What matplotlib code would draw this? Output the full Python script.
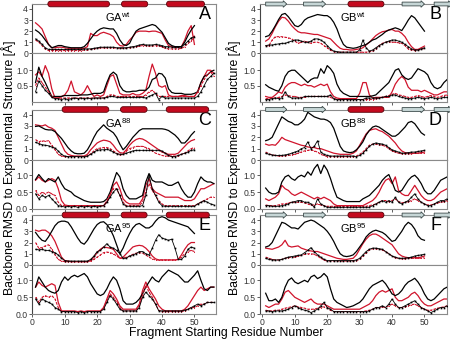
import numpy as np
import matplotlib
matplotlib.use("Agg")
import matplotlib.pyplot as plt
from matplotlib.patches import Polygon

plt.rcParams['font.family'] = ['Liberation Sans', 'DejaVu Sans']
plt.rcParams['mathtext.fontset'] = 'custom'
plt.rcParams['mathtext.rm'] = 'Liberation Sans'
plt.rcParams['mathtext.it'] = 'Liberation Sans:italic'

# ---------------- data (RMSD in Angstrom, per fragment starting residue) -------------
# upper panels: residues 1..50 ; lower panels: residues 1..56 (GA) / 1..57 (GB)
# series: blk = black solid, red = red solid, blkd = black with markers, redd = red dashed with markers

A_up_blk = [2.1,1.9,1.6,1.2,0.8,0.5,0.6,0.7,0.7,0.6,0.55,0.5,0.5,0.5,0.5,0.6,0.9,1.3,1.7,2.0,2.2,2.3,2.25,2.2,2.2,1.8,1.2,0.8,0.7,0.9,1.5,2.0,2.2,2.3,2.4,2.5,2.6,2.5,2.2,1.9,1.4,0.9,0.7,0.6,0.6,0.6,1.0,1.6,2.1,2.5]
A_up_red = [2.75,2.5,2.2,1.5,0.8,0.5,0.5,0.55,0.55,0.5,0.45,0.45,0.45,0.45,0.45,0.45,0.6,1.8,1.6,1.6,1.8,1.9,1.8,1.7,1.5,1.0,0.7,0.65,0.8,1.2,1.5,1.9,2.0,2.0,2.0,1.95,2.0,2.0,1.9,1.8,1.2,0.7,0.6,0.55,0.55,0.6,1.2,2.0,2.5,0.8]
A_up_blkd = [1.3,1.1,0.8,0.5,0.35,0.35,0.35,0.35,0.35,0.35,0.35,0.35,0.35,0.35,0.35,0.4,0.4,0.4,0.45,0.5,0.55,0.55,0.55,0.55,0.55,0.5,0.5,0.5,0.5,0.55,0.6,0.65,0.75,0.8,0.75,0.75,0.75,0.8,0.75,0.7,0.6,0.6,0.55,0.55,0.55,0.6,0.8,1.1,1.4,1.5]
A_up_redd = [1.2,1.0,0.7,0.4,0.25,0.25,0.25,0.25,0.25,0.25,0.25,0.25,0.25,0.25,0.25,0.3,0.3,0.35,0.4,0.45,0.5,0.5,0.5,0.5,0.5,0.45,0.45,0.45,0.45,0.5,0.55,0.6,0.65,0.7,0.7,0.65,0.65,0.7,0.65,0.6,0.45,0.4,0.4,0.4,0.4,0.45,0.6,0.9,1.1,1.6]
A_lo_blk = [0.6,1.1,0.8,0.6,0.37,0.15,0.15,0.15,0.15,0.18,0.18,0.18,0.18,0.18,0.2,0.2,0.2,0.22,0.25,0.25,0.25,0.3,0.6,0.85,0.94,0.85,0.5,0.35,0.3,0.3,0.32,0.32,0.35,0.35,0.35,0.45,0.7,0.75,0.9,0.88,0.75,0.4,0.28,0.25,0.25,0.25,0.22,0.22,0.22,0.25,0.3,0.6,0.8,0.85,0.95,1.0]
A_lo_red = [0.85,0.95,0.8,1.15,0.9,0.4,0.1,0.1,0.15,0.2,0.35,0.65,0.3,0.25,0.2,0.3,0.5,0.3,0.15,0.2,0.15,0.2,0.5,0.8,0.85,0.55,0.25,0.2,0.2,0.2,0.25,0.2,0.2,0.25,0.35,0.8,1.2,0.9,0.5,0.45,0.5,0.2,0.15,0.15,0.15,0.18,0.18,0.15,0.15,0.15,0.3,0.6,0.8,1.0,1.0,0.9]
A_lo_blkd = [0.3,0.65,0.5,0.35,0.25,0.12,0.08,0.08,0.05,0.08,0.05,0.08,0.1,0.08,0.1,0.08,0.1,0.08,0.1,0.1,0.1,0.1,0.12,0.15,0.15,0.12,0.12,0.12,0.12,0.12,0.12,0.12,0.12,0.12,0.1,0.15,0.2,0.25,0.05,0.15,0.1,0.1,0.1,0.1,0.1,0.1,0.1,0.1,0.1,0.1,0.15,0.3,0.5,0.7,0.8,0.9]
A_lo_redd = [0.5,0.75,0.6,0.45,0.3,0.15,0.1,0.1,0.1,0.1,0.1,0.1,0.1,0.1,0.1,0.1,0.1,0.1,0.1,0.1,0.1,0.1,0.15,0.2,0.2,0.15,0.15,0.15,0.15,0.15,0.15,0.15,0.15,0.15,0.2,0.3,0.35,0.25,0.15,0.15,0.15,0.15,0.15,0.15,0.15,0.15,0.15,0.15,0.15,0.15,0.3,0.5,0.7,0.85,0.95,0.8]

B_up_blk = [1.5,1.6,2.0,2.5,3.05,3.5,3.6,3.3,2.9,2.5,2.4,2.6,3.0,3.2,3.3,3.4,3.5,3.45,3.4,3.4,3.2,2.8,2.2,1.4,0.8,0.55,0.5,0.45,0.5,0.6,0.7,0.8,1.0,1.2,1.3,1.5,1.7,1.95,2.1,2.2,2.3,2.2,2.05,2.5,3.0,3.4,3.2,2.8,2.4,2.0]
B_up_red = [1.1,1.3,1.8,2.4,2.9,3.25,3.2,2.9,2.5,2.2,1.95,1.85,1.85,1.8,1.75,1.7,1.7,1.6,1.5,1.4,1.3,1.0,0.7,0.45,0.35,0.35,0.3,0.3,0.35,0.4,0.5,0.75,1.0,1.3,1.6,1.8,1.95,2.0,2.1,2.15,2.0,2.0,1.8,1.5,1.0,0.6,0.35,0.35,0.5,0.65]
B_up_blkd = [0.7,0.75,0.75,0.8,0.85,0.9,0.9,1.0,1.1,1.2,1.2,1.1,1.0,1.0,1.1,1.3,1.3,1.2,1.0,0.7,0.4,0.2,0.15,0.1,0.1,0.1,0.1,0.1,0.1,0.3,1.2,0.5,0.2,0.3,0.5,0.7,0.85,1.0,1.1,1.2,1.2,1.1,1.0,0.8,0.6,0.4,0.3,0.3,0.4,0.5]
B_up_redd = [0.65,0.7,1.2,1.5,1.5,1.5,1.45,1.4,1.3,1.1,0.9,1.0,1.1,1.0,0.9,1.0,1.0,0.9,0.7,0.5,0.3,0.15,0.1,0.1,0.1,0.1,0.1,0.1,0.1,0.1,0.1,0.1,0.15,0.2,0.4,0.7,0.9,1.0,1.05,1.0,1.0,0.95,0.9,0.7,0.4,0.3,0.25,0.3,0.35,0.45]
B_lo_blk = [0.53,0.45,0.4,0.35,0.32,0.5,0.8,0.95,1.0,1.0,0.9,0.8,0.7,0.6,0.7,0.75,0.75,1.05,0.9,1.15,1.05,0.9,0.55,0.35,0.25,0.2,0.15,0.15,0.15,0.15,0.15,0.15,0.15,0.17,0.2,0.3,0.4,0.5,0.6,0.8,1.0,1.05,0.85,0.75,0.7,0.75,0.9,1.05,1.0,0.95,0.85,0.6,0.45,0.4,0.45,0.6,0.7]
B_lo_red = [0.15,0.12,0.12,0.2,0.3,0.25,0.45,0.55,0.6,0.6,0.55,0.5,0.55,0.5,0.5,0.45,0.5,0.55,0.5,0.55,0.3,0.15,0.1,0.08,0.08,0.08,0.08,0.08,0.08,0.25,0.6,0.6,0.2,0.1,0.12,0.12,0.12,0.12,0.12,0.3,0.55,0.7,0.8,0.7,0.45,0.35,0.35,0.35,0.3,0.35,0.3,0.25,0.2,0.2,0.25,0.3,0.3]
B_lo_blkd = [0.05,0.05,0.08,0.1,0.08,0.1,0.3,0.15,0.1,0.1,0.1,0.1,0.15,0.15,0.15,0.15,0.15,0.15,0.15,0.15,0.2,0.08,0.05,0.05,0.05,0.05,0.05,0.05,0.05,0.05,0.05,0.1,0.1,0.1,0.1,0.1,0.12,0.15,0.15,0.2,0.2,0.15,0.12,0.1,0.08,0.08,0.1,0.12,0.1,0.08,0.1,0.12,0.1,0.08,0.1,0.12,0.12]
B_lo_redd = [0.08,0.08,0.1,0.1,0.12,0.15,0.2,0.18,0.15,0.15,0.12,0.12,0.12,0.15,0.15,0.15,0.15,0.15,0.15,0.15,0.12,0.08,0.05,0.05,0.05,0.05,0.05,0.05,0.05,0.05,0.05,0.05,0.05,0.05,0.08,0.1,0.12,0.15,0.18,0.22,0.25,0.2,0.18,0.15,0.12,0.12,0.15,0.18,0.15,0.12,0.15,0.18,0.15,0.12,0.15,0.18,0.2]

C_up_blk = [2.96,3.0,2.85,2.7,2.65,2.65,2.5,2.2,1.9,1.5,1.1,0.8,0.6,0.55,0.55,0.6,0.9,1.4,2.0,2.5,2.8,3.1,2.8,2.6,2.4,2.0,1.4,0.9,1.2,1.6,2.0,2.3,2.6,2.75,2.75,2.75,2.75,2.75,2.75,2.75,2.7,2.6,2.4,2.2,1.9,1.5,1.5,1.8,2.2,2.5]
C_up_red = [3.1,3.05,3.0,3.1,2.9,2.8,2.6,2.0,1.4,0.8,0.5,0.4,0.35,0.35,0.35,0.35,0.5,0.9,1.2,1.5,1.65,1.75,1.7,1.6,1.3,0.9,0.65,0.6,0.9,1.3,1.6,1.8,1.9,1.85,1.7,1.5,1.3,1.1,0.9,0.7,0.6,0.5,0.5,0.5,0.6,0.9,1.2,1.5,1.7,1.8]
C_up_blkd = [1.55,1.45,1.35,1.3,1.25,1.15,1.05,0.8,0.5,0.35,0.3,0.3,0.3,0.3,0.3,0.3,0.35,0.5,0.7,0.85,0.9,0.9,0.95,0.85,0.7,0.55,0.5,0.5,0.6,0.7,0.8,0.85,0.85,0.85,0.85,0.85,0.85,0.85,0.85,0.8,0.6,0.4,0.3,0.3,0.4,0.5,0.6,0.7,0.85,0.9]
C_up_redd = [1.8,1.6,1.7,1.65,1.7,1.3,0.9,0.5,0.35,0.3,0.3,0.3,0.3,0.3,0.3,0.3,0.35,0.55,0.8,1.0,1.05,1.1,1.1,1.0,0.8,0.6,0.45,0.5,0.8,1.0,1.1,1.2,1.2,1.2,1.1,1.0,0.8,0.6,0.5,0.4,0.35,0.35,0.35,0.35,0.35,0.5,0.6,0.8,1.0,1.1]
C_lo_blk = [0.87,1.02,0.9,0.8,0.9,0.85,0.8,0.95,0.75,0.6,0.55,0.5,0.4,0.35,0.3,0.25,0.22,0.2,0.2,0.2,0.2,0.22,0.3,0.5,0.8,1.08,0.95,0.6,0.4,0.3,0.3,0.3,0.35,0.4,0.8,1.05,0.85,0.8,0.8,0.8,0.75,0.7,0.7,0.75,0.8,0.6,0.45,0.35,0.35,0.5,0.75,0.95,0.85,0.8,0.8,0.75]
C_lo_red = [0.85,0.95,0.85,0.8,0.85,0.9,0.85,0.6,0.25,0.12,0.1,0.1,0.1,0.1,0.1,0.1,0.1,0.1,0.1,0.1,0.1,0.1,0.2,0.4,0.7,0.8,0.6,0.3,0.2,0.15,0.15,0.15,0.15,0.3,0.7,0.9,0.6,0.5,0.45,0.4,0.35,0.35,0.35,0.35,0.35,0.3,0.25,0.25,0.25,0.3,0.45,0.6,0.6,0.65,0.7,0.75]
C_lo_blkd = [0.45,0.3,0.4,0.35,0.4,0.3,0.2,0.1,0.08,0.06,0.08,0.06,0.08,0.05,0.08,0.06,0.08,0.06,0.08,0.06,0.08,0.1,0.2,0.35,0.5,0.6,0.4,0.15,0.08,0.08,0.08,0.08,0.08,0.1,0.4,1.0,0.6,0.4,0.2,0.1,0.08,0.08,0.08,0.08,0.08,0.08,0.08,0.08,0.08,0.08,0.15,0.2,0.25,0.2,0.15,0.12]
C_lo_redd = [0.55,0.4,0.5,0.45,0.5,0.45,0.4,0.2,0.1,0.1,0.1,0.1,0.1,0.1,0.1,0.1,0.1,0.1,0.1,0.1,0.1,0.1,0.25,0.45,0.6,0.6,0.4,0.2,0.1,0.1,0.1,0.1,0.1,0.2,0.5,0.75,0.55,0.4,0.25,0.15,0.1,0.1,0.1,0.1,0.1,0.1,0.1,0.1,0.1,0.1,0.15,0.2,0.25,0.3,0.35,0.35]

D_up_blk = [1.7,1.8,2.0,2.6,3.2,3.8,3.6,3.4,3.3,3.1,3.1,3.3,3.6,4.2,4.0,3.8,3.7,3.6,3.6,3.5,3.3,2.8,2.0,1.2,0.8,0.7,0.65,0.7,0.9,1.2,1.6,2.2,2.6,2.9,3.0,2.9,2.7,2.5,2.3,2.1,2.1,2.3,2.6,2.9,3.3,3.4,3.2,2.8,2.4,2.2]
D_up_red = [1.4,1.3,1.35,1.3,1.6,2.0,1.8,1.7,1.6,1.5,1.4,1.3,1.25,1.15,1.1,1.1,1.0,1.0,0.9,0.8,0.7,0.6,0.55,0.5,0.5,0.5,0.5,0.6,0.8,1.3,1.8,2.3,2.6,2.7,2.75,2.6,2.5,2.3,2.1,1.8,1.5,1.1,0.8,0.65,0.6,0.6,0.6,0.6,0.65,0.7]
D_up_blkd = [0.6,0.5,0.45,0.4,0.4,0.4,0.45,0.5,0.6,0.7,0.8,1.0,1.1,1.6,1.0,1.2,1.7,0.7,0.5,0.4,0.35,0.35,0.35,0.35,0.35,0.35,0.35,0.35,0.3,0.4,0.6,0.9,1.2,1.4,1.5,1.45,1.4,1.3,1.1,0.9,0.8,0.7,0.6,0.6,0.65,0.7,0.7,0.75,0.8,0.85]
D_up_redd = [0.7,0.55,0.45,0.4,0.35,0.35,0.38,0.4,0.45,0.5,0.6,0.7,0.8,0.85,0.9,0.8,0.7,0.5,0.4,0.3,0.3,0.3,0.3,0.3,0.3,0.3,0.3,0.3,0.35,0.5,0.7,1.0,1.3,1.4,1.4,1.35,1.3,1.2,1.0,0.8,0.7,0.6,0.55,0.55,0.55,0.55,0.6,0.6,0.6,0.6]
D_lo_blk = [0.62,0.5,0.45,0.45,0.5,0.8,0.95,1.0,0.9,0.85,0.95,1.0,0.95,1.1,1.0,1.2,1.32,1.05,1.3,1.15,0.9,0.6,0.35,0.3,0.25,0.22,0.22,0.22,0.22,0.22,0.3,0.35,0.4,0.5,0.6,0.7,0.85,0.95,1.02,0.8,0.55,0.5,0.55,0.7,0.85,0.95,1.0,0.9,0.75,0.55,0.45,0.45,0.55,0.7,0.85,0.9,0.95]
D_lo_red = [0.3,0.25,0.3,0.35,0.45,0.7,0.6,0.55,0.45,0.4,0.45,0.5,0.45,0.4,0.35,0.3,0.35,0.3,0.35,0.3,0.25,0.15,0.1,0.1,0.1,0.1,0.1,0.1,0.1,0.1,0.1,0.15,0.2,0.25,0.35,0.5,0.7,0.85,0.9,0.75,0.95,0.55,0.45,0.4,0.4,0.55,0.7,0.55,0.4,0.3,0.25,0.25,0.3,0.4,0.5,0.55,0.6]
D_lo_blkd = [0.1,0.1,0.08,0.08,0.08,0.1,0.12,0.15,0.2,0.22,0.25,0.25,0.2,0.2,0.15,0.05,0.3,0.15,0.1,0.05,0.05,0.05,0.05,0.05,0.05,0.05,0.05,0.05,0.05,0.05,0.05,0.05,0.05,0.1,0.15,0.2,0.25,0.2,0.25,0.2,0.35,0.2,0.15,0.2,0.25,0.35,0.45,0.3,0.2,0.15,0.1,0.1,0.15,0.2,0.25,0.25,0.3]
D_lo_redd = [0.12,0.1,0.1,0.1,0.12,0.15,0.15,0.18,0.2,0.2,0.2,0.2,0.18,0.15,0.12,0.12,0.15,0.12,0.1,0.08,0.08,0.08,0.08,0.08,0.08,0.08,0.08,0.08,0.08,0.08,0.08,0.08,0.1,0.12,0.15,0.2,0.25,0.25,0.22,0.25,0.3,0.22,0.18,0.2,0.22,0.25,0.3,0.25,0.2,0.15,0.12,0.12,0.15,0.18,0.2,0.22,0.25]

E_up_blk = [2.9,2.5,2.2,2.1,2.5,3.0,3.5,3.8,3.9,3.9,3.8,3.4,2.9,2.4,2.0,1.85,2.2,2.7,3.2,3.6,3.8,3.85,3.6,3.2,2.6,1.8,1.0,1.5,2.2,2.8,3.3,3.6,3.7,3.5,3.3,3.3,3.5,3.9,4.2,4.3,4.2,4.0,3.9,3.8,3.7,3.6,3.5,3.4,3.1,2.8]
E_up_red = [3.1,3.0,3.1,3.1,2.9,2.6,2.1,1.4,0.7,0.4,0.35,0.3,0.3,0.3,0.3,0.3,0.3,0.4,0.7,1.1,1.4,1.6,1.55,1.5,1.4,1.0,0.6,0.7,1.0,1.3,1.6,1.7,1.75,1.7,1.5,1.2,0.8,0.55,0.45,0.45,0.45,0.45,0.45,0.45,0.5,0.9,1.4,1.8,2.0,2.0]
E_up_blkd = [1.4,1.35,1.4,1.3,1.3,1.2,1.1,0.9,0.6,0.4,0.35,0.35,0.35,0.35,0.35,0.35,0.35,0.5,0.8,1.2,1.3,1.6,1.9,1.6,1.5,1.3,1.0,0.6,0.6,0.8,0.9,1.0,1.2,1.2,1.0,0.9,1.5,2.2,2.7,2.4,2.3,2.2,2.3,1.5,0.5,0.5,0.8,1.4,1.6,1.5]
E_up_redd = [2.0,1.5,1.55,1.7,1.8,1.4,0.9,0.5,0.35,0.3,0.3,0.3,0.3,0.3,0.3,0.3,0.3,0.35,0.5,0.7,0.9,1.1,1.15,1.1,1.0,0.8,0.6,0.6,0.7,0.8,0.95,1.05,1.1,1.05,0.9,0.7,0.55,0.45,0.45,0.45,0.45,0.45,0.45,0.45,0.5,0.7,1.0,1.2,1.3,1.2]
E_lo_blk = [0.8,1.1,0.95,0.8,0.7,0.65,0.62,0.7,0.95,1.1,1.0,1.1,1.15,1.1,1.15,1.2,1.1,0.9,0.75,0.6,0.55,0.6,0.75,0.95,1.1,1.0,0.75,0.4,0.3,0.3,0.3,0.35,0.45,0.6,0.8,0.95,1.1,1.0,0.95,1.1,1.2,1.3,1.25,1.2,1.15,1.05,0.95,0.95,1.05,1.15,1.28,1.0,0.75,0.7,0.8,0.8]
E_lo_red = [0.8,0.95,0.85,0.8,0.85,0.9,0.85,0.35,0.1,0.1,0.1,0.1,0.1,0.08,0.1,0.08,0.1,0.1,0.1,0.1,0.1,0.2,0.45,0.7,0.6,0.45,0.25,0.15,0.15,0.15,0.15,0.15,0.3,0.7,0.95,0.75,0.6,0.45,0.25,0.15,0.1,0.1,0.1,0.1,0.1,0.1,0.15,0.25,0.4,0.55,0.7,0.8,0.7,0.75,0.8,0.8]
E_lo_blkd = [0.45,0.3,0.45,0.4,0.35,0.3,0.2,0.15,0.08,0.08,0.08,0.08,0.08,0.05,0.08,0.05,0.08,0.08,0.08,0.08,0.08,0.15,0.35,0.55,0.45,0.3,0.15,0.1,0.1,0.1,0.1,0.1,0.2,0.5,0.65,0.55,0.45,0.3,0.1,0.1,0.1,0.1,0.1,0.1,0.1,0.1,0.12,0.15,0.2,0.25,0.3,0.25,0.3,0.35,0.35,0.35]
E_lo_redd = [0.5,0.35,0.5,0.55,0.5,0.55,0.45,0.2,0.08,0.08,0.08,0.08,0.08,0.08,0.08,0.08,0.08,0.08,0.08,0.08,0.08,0.2,0.4,0.6,0.5,0.35,0.2,0.1,0.1,0.1,0.1,0.1,0.25,0.55,0.85,0.65,0.5,0.3,0.12,0.08,0.08,0.08,0.08,0.08,0.08,0.08,0.1,0.15,0.2,0.2,0.25,0.3,0.3,0.35,0.35,0.35]

F_up_blk = [1.6,1.7,2.0,2.6,3.2,3.8,3.7,3.5,3.3,3.3,3.2,3.5,3.8,3.9,4.0,3.9,3.7,3.5,3.3,3.0,2.6,2.1,1.5,1.0,0.8,0.75,0.8,0.9,1.2,1.6,2.0,2.5,2.8,3.0,3.1,3.0,2.9,2.7,2.4,2.1,2.2,2.6,3.0,3.5,3.8,3.6,3.2,2.6,2.3,2.2]
F_up_red = [1.5,1.45,1.4,1.5,1.6,1.8,2.2,1.7,1.6,1.65,1.7,1.5,1.4,1.3,1.25,1.2,1.2,1.1,1.0,0.9,0.8,0.7,0.6,0.55,0.5,0.5,0.55,0.6,0.9,1.4,1.9,2.3,2.6,2.75,2.75,2.6,2.4,2.2,2.0,1.8,1.4,1.0,0.8,0.7,0.65,0.65,0.65,0.65,0.7,0.8]
F_up_blkd = [0.6,0.5,0.45,0.45,0.45,0.5,0.6,0.7,0.75,0.8,0.85,0.9,1.1,1.3,1.55,1.2,0.9,0.7,0.5,0.4,0.4,0.4,0.4,0.4,0.4,0.4,0.4,0.4,0.45,0.6,0.9,1.2,1.4,1.5,1.5,1.45,1.4,1.2,1.0,0.8,0.7,0.6,0.6,0.6,0.65,0.7,0.8,0.85,0.9,0.95]
F_up_redd = [0.7,0.6,0.5,0.45,0.45,0.5,0.6,0.65,0.7,0.7,0.8,0.85,0.95,1.0,1.0,0.95,0.8,0.6,0.45,0.35,0.35,0.35,0.35,0.35,0.35,0.35,0.35,0.35,0.4,0.5,0.8,1.1,1.35,1.45,1.45,1.4,1.35,1.2,1.0,0.8,0.65,0.6,0.55,0.55,0.6,0.6,0.6,0.6,0.6,0.65]
F_lo_blk = [0.62,0.4,0.4,0.45,0.35,0.5,0.8,1.0,1.07,0.95,0.9,0.95,1.0,0.95,1.1,1.15,1.05,1.1,1.2,1.1,0.75,0.45,0.35,0.3,0.25,0.2,0.22,0.25,0.3,0.35,0.45,0.6,0.75,0.85,0.9,0.95,1.0,0.9,0.75,0.6,0.55,0.6,0.7,0.85,0.95,1.0,1.06,0.95,0.8,0.6,0.45,0.4,0.45,0.55,0.65,0.75,0.8]
F_lo_red = [0.25,0.2,0.25,0.3,0.3,0.45,0.65,0.7,0.6,0.5,0.45,0.4,0.35,0.4,0.45,0.35,0.3,0.3,0.3,0.25,0.2,0.15,0.15,0.15,0.15,0.15,0.15,0.15,0.15,0.15,0.2,0.25,0.3,0.4,0.55,0.65,0.7,0.65,0.7,0.75,0.5,0.4,0.4,0.45,0.5,0.6,0.65,0.55,0.4,0.3,0.25,0.25,0.3,0.35,0.4,0.45,0.45]
F_lo_blkd = [0.1,0.1,0.08,0.1,0.1,0.1,0.12,0.15,0.2,0.25,0.2,0.15,0.12,0.1,0.05,0.1,0.15,0.25,0.35,0.2,0.15,0.08,0.08,0.08,0.08,0.08,0.08,0.08,0.08,0.08,0.08,0.08,0.1,0.15,0.2,0.2,0.25,0.2,0.3,0.45,0.3,0.2,0.2,0.25,0.3,0.35,0.4,0.3,0.2,0.15,0.1,0.05,0.1,0.15,0.2,0.2,0.25]
F_lo_redd = [0.12,0.1,0.1,0.12,0.12,0.15,0.18,0.2,0.22,0.25,0.22,0.2,0.18,0.15,0.15,0.15,0.18,0.2,0.22,0.18,0.12,0.08,0.08,0.08,0.08,0.08,0.08,0.08,0.08,0.08,0.08,0.1,0.12,0.15,0.2,0.2,0.22,0.2,0.25,0.3,0.25,0.2,0.2,0.22,0.25,0.28,0.3,0.25,0.2,0.15,0.12,0.12,0.15,0.18,0.2,0.22,0.25]

titles = {'A': ('GA', 'wt'), 'B': ('GB', 'wt'), 'C': ('GA', '88'),
          'D': ('GB', '88'), 'E': ('GA', '95'), 'F': ('GB', '95')}
# secondary structure (residue ranges)
GA_helix = {'A': [(4.8, 23.8), (27.5, 35.6), (41.4, 53.1)],
            'C': [(9.2, 23.6), (27.2, 35.4), (41.3, 54.4)],
            'E': [(9.2, 23.8), (27.4, 35.4), (41.3, 54.6)]}
GB_strands = [(1.0, 7.5), (12.7, 19.5), (43.1, 50.0), (53.0, 58.5)]
GB_helix = [(26.4, 37.5)]

upper_ticks = [0, 1, 2, 3, 4]
lower_ticks_ab = [0.5, 1.0]
lower_ticks = [0.0, 0.5, 1.0]
x_ticks = [0, 10, 20, 30, 40, 50]

data = {
    'A': (A_up_blk, A_up_red, A_up_blkd, A_up_redd, A_lo_blk, A_lo_red, A_lo_blkd, A_lo_redd),
    'B': (B_up_blk, B_up_red, B_up_blkd, B_up_redd, B_lo_blk, B_lo_red, B_lo_blkd, B_lo_redd),
    'C': (C_up_blk, C_up_red, C_up_blkd, C_up_redd, C_lo_blk, C_lo_red, C_lo_blkd, C_lo_redd),
    'D': (D_up_blk, D_up_red, D_up_blkd, D_up_redd, D_lo_blk, D_lo_red, D_lo_blkd, D_lo_redd),
    'E': (E_up_blk, E_up_red, E_up_blkd, E_up_redd, E_lo_blk, E_lo_red, E_lo_blkd, E_lo_redd),
    'F': (F_up_blk, F_up_red, F_up_blkd, F_up_redd, F_lo_blk, F_lo_red, F_lo_blkd, F_lo_redd),
}

# ---------------- layout ----------------
W, H = 450, 345
fig = plt.figure(figsize=(W / 100, H / 100), dpi=100)

def px_axes(x0, y0, x1, y1):
    return fig.add_axes([x0 / W, 1 - y1 / H, (x1 - x0) / W, (y1 - y0) / H])

cols = {'L': (32.3, 215.5, (0, 56.5)), 'R': (259.5, 446.5, (-0.9, 56.8))}
rows = [(4, 53.3, 102), (109.5, 160, 209), (215, 265, 314.3)]
panel_pos = {'A': ('L', 0), 'B': ('R', 0), 'C': ('L', 1), 'D': ('R', 1), 'E': ('L', 2), 'F': ('R', 2)}

RED = '#d0142c'
HELIX = '#c40a1e'
STRAND = '#c6d6d6'
SPINE = '#8a8a8a'
TICKC = '#333333'
UP_YMAX = 4.45

def style(ax, xlim, ylim, yticks, yfmt, bottom_labels):
    ax.set_xlim(*xlim)
    ax.set_ylim(*ylim)
    ax.set_yticks(yticks)
    ax.set_yticklabels([yfmt.format(t) for t in yticks])
    ax.set_xticks(x_ticks)
    if not bottom_labels:
        ax.set_xticklabels([])
    for s in ax.spines.values():
        s.set_color(SPINE)
        s.set_linewidth(0.8)
    ax.spines['left'].set_color('#444444')
    ax.tick_params(axis='both', length=2, width=0.6, color='#444444', labelsize=6.2,
                   labelcolor=TICKC, pad=1.0)

def draw_series(ax, x, blk, red, blkd, redd):
    ax.plot(x, blk, color='black', lw=0.9, zorder=4)
    ax.plot(x, red, color=RED, lw=0.9, zorder=3)
    ax.plot(x, blkd, color='black', lw=0.6, marker='s', ms=1.2, mew=0, zorder=5)
    ax.plot(x, redd, color=RED, lw=0.8, ls=(0, (2.5, 1)), marker='.', ms=1.6, mew=0, zorder=4)

def stadium(ax, x0, x1, yc, rx, ry, **kw):
    t = np.linspace(-np.pi / 2, np.pi / 2, 20)
    right = np.column_stack([x1 - rx + rx * np.cos(t), yc + ry * np.sin(t)])
    left = np.column_stack([x0 + rx - rx * np.cos(t), yc - ry * np.sin(t)])
    pts = np.vstack([right, left])
    ax.add_patch(Polygon(pts, closed=True, clip_on=False, **kw))

def arrow(ax, x0, x1, yc, hb, hh, hl, **kw):
    pts = [(x0, yc - hb), (x1 - hl, yc - hb), (x1 - hl, yc - hh), (x1, yc),
           (x1 - hl, yc + hh), (x1 - hl, yc + hb), (x0, yc + hb)]
    ax.add_patch(Polygon(pts, closed=True, clip_on=False, **kw))

for key, (col, r) in panel_pos.items():
    x0, x1, xlim = cols[col]
    top, mid, bot = rows[r]
    bu = data[key]
    # upper
    axu = px_axes(x0, top, x1, mid)
    style(axu, xlim, (0, UP_YMAX), upper_ticks, '{:d}', False)
    xu = np.arange(1, len(bu[0]) + 1)
    draw_series(axu, xu, bu[0], bu[1], bu[2], bu[3])
    # lower
    axl = px_axes(x0, mid, x1, bot)
    if key in ('A', 'B'):
        style(axl, xlim, (-0.03, 1.55), lower_ticks_ab, '{:.1f}', r == 2)
    else:
        style(axl, xlim, (0, 1.45), lower_ticks, '{:.1f}', r == 2)
    xl = np.arange(1, len(bu[4]) + 1)
    draw_series(axl, xl, bu[4], bu[5], bu[6], bu[7])
    # secondary structure at top of upper panel
    pxu = (x1 - x0) / (xlim[1] - xlim[0])       # px per residue
    pyu = (mid - top) / UP_YMAX                  # px per RMSD unit
    if col == 'L':
        for a, b in GA_helix[key]:
            stadium(axu, a, b, UP_YMAX, 2.6 / pxu, 2.8 / pyu, facecolor=HELIX,
                    edgecolor='#5a0008', lw=0.6, zorder=10)
    else:
        for a, b in GB_strands:
            arrow(axu, a, b, UP_YMAX, 1.9 / pyu, 3.3 / pyu, 3.5 / pxu,
                  facecolor=STRAND, edgecolor='#3c4a4a', lw=0.6, zorder=10)
        for a, b in GB_helix:
            stadium(axu, a, b, UP_YMAX, 2.6 / pxu, 2.8 / pyu, facecolor=HELIX,
                    edgecolor='#5a0008', lw=0.6, zorder=10)
    # labels
    name, sup = titles[key]
    axu.text(0.47 if col == 'L' else 0.5, 0.74, r'$\mathrm{' + name + r'}^{\mathrm{' + sup + r'}}$',
             transform=axu.transAxes, ha='center', va='center', fontsize=8)
    axu.text(0.975, 0.78, key, transform=axu.transAxes, ha='right', va='center',
             fontsize=13)

fig.text(8.5 / W, 1 - 168 / H, 'Backbone RMSD to Experimental Structure [Å]',
         rotation=90, ha='center', va='center', fontsize=8.8)
fig.text(233.5 / W, 1 - 168 / H, 'Backbone RMSD to Experimental Structure [Å]',
         rotation=90, ha='center', va='center', fontsize=8.8)
fig.text(226 / W, 1 - 333 / H, 'Fragment Starting Residue Number',
         ha='center', va='center', fontsize=8.8)

fig.savefig('out.png', dpi=100)
